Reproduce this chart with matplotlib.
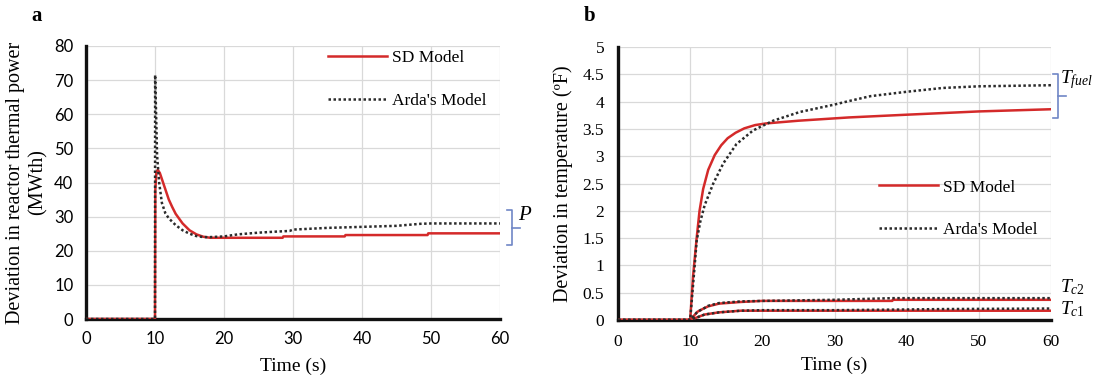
import matplotlib

matplotlib.use("Agg")
import matplotlib.pyplot as plt
from matplotlib.lines import Line2D
from matplotlib.ticker import FuncFormatter, MultipleLocator

plt.rcParams["font.family"] = "Liberation Serif"
plt.rcParams["mathtext.fontset"] = "custom"
plt.rcParams["mathtext.it"] = "Liberation Serif:italic"
plt.rcParams["mathtext.rm"] = "Liberation Serif"

# --- panel a: reactor thermal power deviation (MWth) -------------------------
t_sd_a = [0, 10, 10.05, 10.2, 10.4, 10.7, 11, 11.5, 12, 12.5, 13, 14, 15, 16,
          17, 18, 28.5, 28.6, 37.5, 37.6, 49.5, 49.6, 60]
p_sd = [0, 0, 38, 43, 43.7, 42.8, 41, 38, 35, 32.8, 30.8, 28, 26, 24.8,
        24.1, 23.8, 23.8, 24.2, 24.2, 24.6, 24.6, 25.1, 25.1]
t_arda_a = [0, 10, 10.02, 10.3, 10.6, 11, 11.5, 12, 13, 14, 15, 16, 17, 18,
            20, 22, 25, 27.5, 29.5, 30, 35, 40, 45, 48.5, 50, 60]
p_arda = [0, 0, 71.5, 48, 40, 34, 31, 29.5, 27.5, 26, 25, 24.3, 24, 24,
          24.2, 24.8, 25.3, 25.6, 25.8, 26.2, 26.7, 27, 27.3, 27.9, 28, 28]

# --- panel b: temperature deviations (F) --------------------------------------
t_b = [0, 10, 10.4, 10.9, 11.3, 11.8, 12.5, 13.4, 14.3, 15.2, 16.3, 17.5, 19,
       20.5, 25, 32, 40, 50, 60]
tfuel_sd = [0, 0, 0.8, 1.5, 2.0, 2.4, 2.75, 3.02, 3.2, 3.33, 3.43, 3.51, 3.57,
            3.6, 3.65, 3.71, 3.76, 3.82, 3.86]
t_b_arda = [0, 10, 10.5, 10.9, 11.4, 12, 13.2, 14.6, 16.4, 18.7, 21.5, 25.2,
            29.8, 32, 35, 40, 45, 50, 60]
tfuel_arda = [0, 0, 0.8, 1.45, 1.8, 2.1, 2.5, 2.87, 3.22, 3.47, 3.65, 3.81,
              3.94, 4.01, 4.1, 4.18, 4.25, 4.28, 4.3]
t_c = [0, 10, 11, 12, 12.5, 14, 17, 20, 30, 38, 38.1, 45, 60]
tc2_sd = [0, 0, 0.15, 0.22, 0.25, 0.3, 0.33, 0.35, 0.35, 0.35, 0.37, 0.37, 0.37]
tc2_arda = [0, 0, 0.15, 0.22, 0.26, 0.31, 0.34, 0.35, 0.37, 0.4, 0.4, 0.4, 0.4]
tc1_sd = [0, 0, 0.05, 0.1, 0.11, 0.14, 0.17, 0.17, 0.17, 0.17, 0.17, 0.17, 0.17]
tc1_arda = [0, 0, 0.05, 0.1, 0.11, 0.14, 0.17, 0.18, 0.18, 0.19, 0.19, 0.2, 0.21]

RED = "#d42a2a"
DOT = "#2b2b2b"
BRACE = "#6f86c6"
W, H = 1095, 381

fig = plt.figure(figsize=(W / 100, H / 100), dpi=100)


def px_axes(x0, y0, x1, y1):
    """axes from pixel box (top-left origin)"""
    return fig.add_axes([x0 / W, 1 - y1 / H, (x1 - x0) / W, (y1 - y0) / H])


def brace(x, y0, y1, ym, serif=5, tick=8):
    for xs, ys in (
        ([x - serif, x, x, x - serif], [y0, y0, y1, y1]),
        ([x, x + tick], [ym, ym]),
    ):
        fig.add_artist(Line2D([v / W for v in xs], [1 - v / H for v in ys],
                              color=BRACE, lw=1.2, transform=fig.transFigure))


def style(ax):
    ax.grid(True, color="#d9d9d9", lw=0.9)
    ax.set_axisbelow(True)
    for s in ("top", "right"):
        ax.spines[s].set_visible(False)
    for s in ("left", "bottom"):
        ax.spines[s].set_linewidth(2.4)
        ax.spines[s].set_color("#111111")
    ax.set_xlim(0, 60)
    ax.xaxis.set_major_locator(MultipleLocator(10))


# panel a
ax = px_axes(86, 46, 500, 319)
style(ax)
ax.plot(t_sd_a, p_sd, color=RED, lw=1.8, label="SD Model", zorder=3)
ax.plot(t_arda_a, p_arda, color=DOT, lw=1.8, ls=(0, (1, 1)), label="Arda's Model", zorder=4)
ax.set_ylim(0, 80)
ax.yaxis.set_major_locator(MultipleLocator(10))
ax.tick_params(length=0, labelsize=12, pad=9)
for lab in ax.get_xticklabels() + ax.get_yticklabels():
    lab.set_family("Lato")
ax.set_xlabel("Time (s)", fontsize=14, labelpad=7)
ax.set_ylabel("Deviation in reactor thermal power\n(MWth)", fontsize=14.5, labelpad=5)
ax.legend(loc="upper left", bbox_to_anchor=(0.585, 0.985), frameon=False,
          fontsize=12.5, handlelength=3.4, handletextpad=0.25, labelspacing=1.55,
          borderpad=0, borderaxespad=0)
fig.text(37 / W, 1 - 16 / H, "a", fontsize=15, fontweight="bold", ha="center", va="center")
brace(512, 210, 245, 228)
fig.text(518 / W, 1 - 216 / H, "$P$", fontsize=15, ha="left", va="center")

# panel b
ax = px_axes(618, 47, 1051, 320)
style(ax)
ax.plot(t_b, tfuel_sd, color=RED, lw=1.8, label="SD Model", zorder=3)
ax.plot(t_b_arda, tfuel_arda, color=DOT, lw=1.8, ls=(0, (1, 1)), label="Arda's Model", zorder=4)
for sd, arda in ((tc2_sd, tc2_arda), (tc1_sd, tc1_arda)):
    ax.plot(t_c, sd, color=RED, lw=1.8, zorder=3)
    ax.plot(t_c, arda, color=DOT, lw=1.8, ls=(0, (1, 1)), zorder=4)
ax.set_ylim(0, 5)
ax.yaxis.set_major_locator(MultipleLocator(0.5))
ax.yaxis.set_major_formatter(FuncFormatter(lambda v, _: f"{v:g}"))
ax.tick_params(length=0, labelsize=12.5, pad=10)
ax.set_xlabel("Time (s)", fontsize=14, labelpad=5)
ax.set_ylabel("Deviation in temperature (ºF)", fontsize=14.5, labelpad=7)
ax.legend(loc="upper left", bbox_to_anchor=(0.603, 0.515), frameon=False,
          fontsize=12.5, handlelength=3.4, handletextpad=0.3, labelspacing=1.5,
          borderpad=0, borderaxespad=0)
fig.text(590 / W, 1 - 16 / H, "b", fontsize=15, fontweight="bold", ha="center", va="center")
brace(1058, 74, 118, 96)
fig.text(1060 / W, 1 - 80 / H, "$T_{fuel}$", fontsize=14, ha="left", va="center")
fig.text(1060 / W, 1 - 287 / H, "$T_{c2}$", fontsize=14, ha="left", va="center")
fig.text(1060 / W, 1 - 309 / H, "$T_{c1}$", fontsize=14, ha="left", va="center")

fig.savefig("out.png", dpi=100)
